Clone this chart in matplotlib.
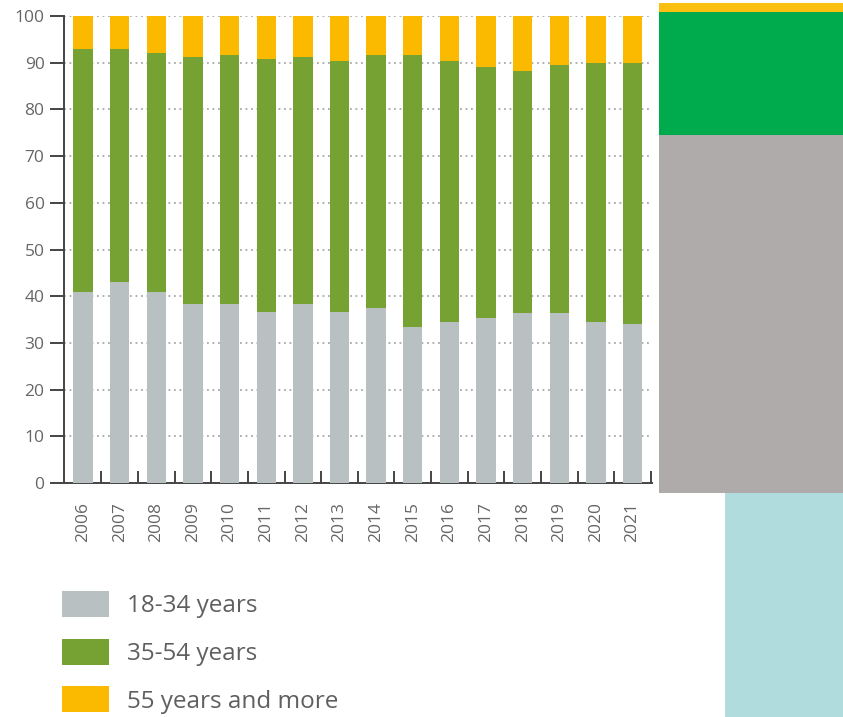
import matplotlib
matplotlib.use("Agg")
import matplotlib.pyplot as plt
from matplotlib.patches import Rectangle, Patch
from matplotlib.ticker import FixedLocator

# ---- data ----
years = ["2006", "2007", "2008", "2009", "2010", "2011", "2012", "2013",
         "2014", "2015", "2016", "2017", "2018", "2019", "2020", "2021"]
age_18_34 = [41.0, 43.0, 41.0, 38.3, 38.3, 36.7, 38.3, 36.7,
             37.5, 33.3, 34.5, 35.4, 36.3, 36.3, 34.5, 34.1]
age_35_54 = [51.9, 49.9, 51.0, 52.9, 53.3, 54.0, 52.9, 53.7,
             54.1, 58.3, 55.9, 53.7, 51.9, 53.2, 55.4, 55.8]
age_55_plus = [7.1, 7.1, 8.0, 8.8, 8.4, 9.3, 8.8, 9.6,
               8.4, 8.4, 9.6, 10.9, 11.8, 10.5, 10.1, 10.1]
series_labels = ["18-34 years", "35-54 years", "55 years and more"]
y_ticks = [0, 10, 20, 30, 40, 50, 60, 70, 80, 90, 100]

# ---- style ----
C_GREY = "#b9c0c2"
C_GREEN = "#76a233"
C_YELLOW = "#fbba00"
TXT = "#666666"
FONT = ["Open Sans", "DejaVu Sans"]
plt.rcParams["font.family"] = FONT

W, H = 843, 717
fig = plt.figure(figsize=(W / 100, H / 100), dpi=100)
fig.patch.set_facecolor("white")


def fx(px):
    return px / W


def fy(py):
    return 1 - py / H


# ---- decorative blocks on the right (fragment of neighbouring graphic) ----
def block(x0, y0, x1, y1, color):
    fig.patches.append(Rectangle((fx(x0), fy(y1)), fx(x1) - fx(x0), fy(y0) - fy(y1),
                                 transform=fig.transFigure, facecolor=color,
                                 edgecolor="none", zorder=0))


block(659, 3, 843, 12, "#fbbf10")
block(659, 12, 843, 135, "#00ab4e")
block(659, 135, 843, 493, "#afabab")
block(725, 493, 843, 717, "#b1dcdd")

# ---- main axes ----
ax_l, ax_r, ax_t, ax_b = 64, 652, 16, 483
ax = fig.add_axes([fx(ax_l), fy(ax_b), fx(ax_r) - fx(ax_l), fy(ax_t) - fy(ax_b)])

x = list(range(len(years)))
bw = 0.53
bottom2 = age_18_34
bottom3 = [a + b for a, b in zip(age_18_34, age_35_54)]
ax.bar(x, age_18_34, width=bw, color=C_GREY, zorder=3, label=series_labels[0])
ax.bar(x, age_35_54, width=bw, bottom=bottom2, color=C_GREEN, zorder=3, label=series_labels[1])
ax.bar(x, age_55_plus, width=bw, bottom=bottom3, color=C_YELLOW, zorder=3, label=series_labels[2])

ax.set_xlim(-0.52, len(years) - 1 + 0.53)
ax.set_ylim(0, 100)

ax.set_yticks(y_ticks)
ax.set_yticklabels([str(v) for v in y_ticks])
ax.set_xticks(x)
ax.set_xticklabels(years, rotation=90)
ax.xaxis.set_minor_locator(FixedLocator([i + 0.5 for i in x]))

ax.tick_params(axis="y", which="major", direction="out", length=10, width=1.4,
               color="#444444", labelsize=12.5, labelcolor=TXT, pad=4)
ax.tick_params(axis="x", which="major", length=0, labelsize=12.5, labelcolor=TXT, pad=14)
ax.tick_params(axis="x", which="minor", direction="in", length=8.5, width=1.4,
               color="#444444")

for s in ["top", "right"]:
    ax.spines[s].set_visible(False)
for s in ["left", "bottom"]:
    ax.spines[s].set_color("#444444")
    ax.spines[s].set_linewidth(1.4)

ax.yaxis.grid(True, linestyle=(0, (1.2, 2.4)), color="#9a9a9a", linewidth=1.1, zorder=0)
ax.set_axisbelow(True)
ax.set_facecolor("none")

# ---- legend ----
handles = [Patch(facecolor=C_GREY), Patch(facecolor=C_GREEN), Patch(facecolor=C_YELLOW)]
leg = fig.legend(handles, series_labels, loc="upper left",
                 bbox_to_anchor=(fx(62), fy(591)), bbox_transform=fig.transFigure,
                 frameon=False, fontsize=17.5, handlelength=1.93, handleheight=1.28,
                 handletextpad=0.75, labelspacing=0.84, borderpad=0, borderaxespad=0)
for t in leg.get_texts():
    t.set_color("#5f5f5f")

fig.savefig("out.png", dpi=100, facecolor="white")
